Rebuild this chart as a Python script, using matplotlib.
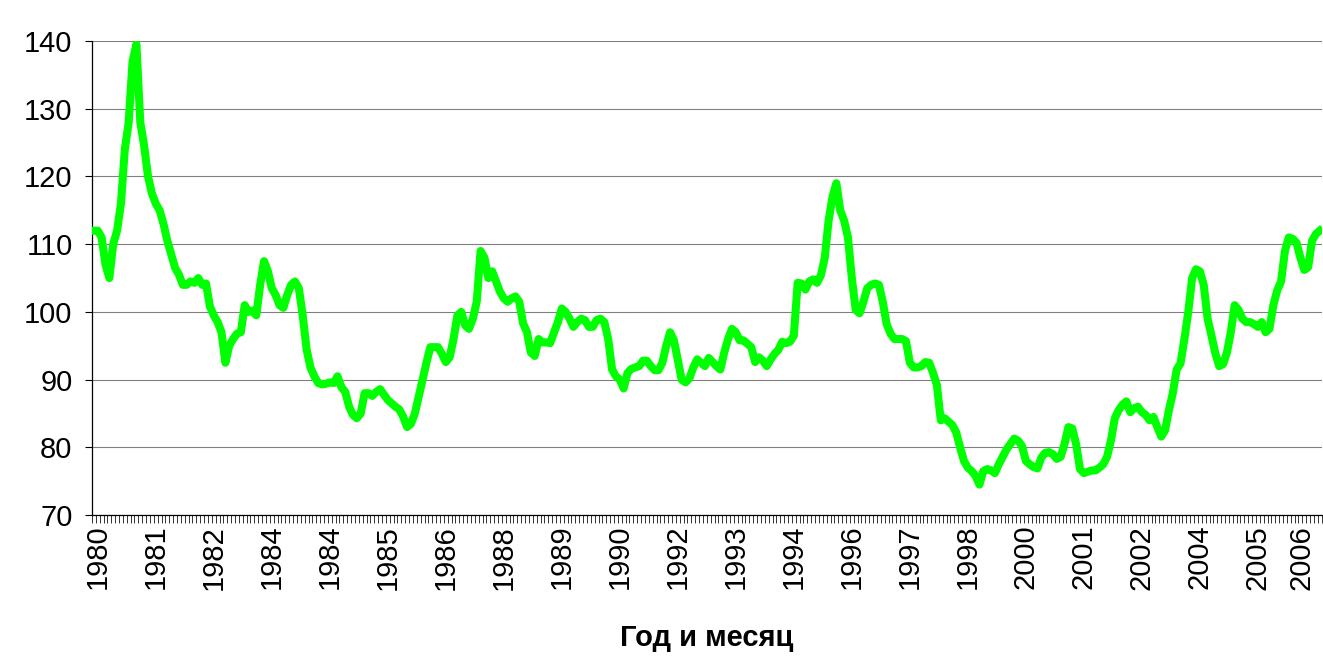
import numpy as np
import matplotlib.pyplot as plt

plt.rcParams['font.family'] = ['Liberation Sans', 'DejaVu Sans']

# monthly index values
values = [
    112, 112, 111, 107, 105, 110, 112, 116, 124, 128,
    137, 139.5, 128, 124.5, 120, 117.5, 116, 115, 113, 110.5,
    108.5, 106.5, 105.5, 104, 104, 104.5, 104.3, 105, 104, 104.2,
    100.8, 99.5, 98.5, 97, 92.5, 95, 96, 96.8, 97, 101,
    100, 100.2, 99.5, 104, 107.5, 106, 103.5, 102.5, 101, 100.6,
    102.5, 104, 104.5, 103.5, 99.5, 94.5, 91.8, 90.5, 89.5, 89.3,
    89.4, 89.6, 89.5, 90.5, 88.9, 88.2, 86, 84.8, 84.3, 85,
    88, 88, 87.6, 88.2, 88.6, 87.8, 87, 86.5, 86, 85.6,
    84.5, 83, 83.5, 85, 87.5, 90, 92.5, 94.8, 94.8, 94.8,
    93.8, 92.6, 93.3, 96, 99.5, 100, 98, 97.5, 99, 101.5,
    109, 108, 105, 106, 104.5, 103, 102, 101.5, 102, 102.3,
    101.5, 98.3, 97, 94, 93.5, 96, 95.5, 95.5, 95.4, 97,
    98.5, 100.5, 100, 99, 97.8, 98.5, 99, 98.8, 97.8, 97.8,
    98.8, 99, 98.5, 96, 91.5, 90.5, 90, 88.7, 91, 91.6,
    91.8, 92, 92.8, 92.8, 92, 91.4, 91.4, 92.5, 95, 97,
    95.8, 92.9, 90, 89.6, 90.2, 91.8, 93, 92.5, 92, 93.2,
    92.6, 92, 91.5, 94, 96, 97.5, 97, 95.8, 95.8, 95.3,
    94.8, 92.6, 93.3, 92.8, 92, 93, 93.8, 94.4, 95.6, 95.4,
    95.6, 96.5, 104.3, 104.2, 103.3, 104.5, 104.8, 104.3, 105.4, 108,
    113.5, 117, 119, 115, 113.5, 111, 105, 100.3, 99.8, 101.5,
    103.5, 104, 104.2, 104, 101.5, 98.2, 96.8, 96, 96, 96,
    95.7, 92.5, 91.8, 91.8, 92, 92.6, 92.5, 91, 89.2, 84,
    84.3, 83.8, 83.3, 82.2, 80, 78, 77, 76.5, 75.8, 74.5,
    76.5, 76.8, 76.6, 76.2, 77.5, 78.6, 79.7, 80.5, 81.3, 81,
    80.2, 78, 77.5, 77.1, 76.9, 78.5, 79.2, 79.3, 79, 78.3,
    78.6, 80.5, 83, 82.8, 80.5, 76.8, 76.2, 76.4, 76.6, 76.6,
    77, 77.5, 78.6, 81, 84.3, 85.5, 86.3, 86.8, 85.2, 85.8,
    86, 85.2, 84.8, 84, 84.5, 83, 81.6, 82.5, 85.5, 88,
    91.5, 92.4, 96, 100, 105, 106.3, 106, 104, 99, 96.5,
    93.9, 92, 92.3, 94, 97, 101, 100.3, 99, 98.5, 98.5,
    98.2, 97.8, 98.5, 97, 97.5, 101, 103.2, 104.5, 109, 111,
    110.8, 110.2, 108, 106.2, 106.6, 110.5, 111.5, 112,
]

year_labels = ['1980', '1981', '1982', '1984', '1984', '1985', '1986', '1988',
               '1989', '1990', '1992', '1993', '1994', '1996', '1997', '1998',
               '2000', '2001', '2002', '2004', '2005', '2006']
label_step = 15
y_ticks = [70, 80, 90, 100, 110, 120, 130, 140]

n = len(values)
x = np.arange(n)

fig = plt.figure(figsize=(13.23, 6.69), dpi=100)
ax = fig.add_axes([0.0695, 0.230, 0.9295, 0.7087])

ax.plot(x, values, color='#00FF00', lw=5.8, solid_joinstyle='round', zorder=3)

ax.set_xlim(-0.5, n - 0.5)
ax.set_ylim(70, 140)
ax.set_yticks(y_ticks)
ax.yaxis.grid(True, color='#808080', lw=0.8)
ax.set_axisbelow(True)

pos = np.arange(len(year_labels)) * label_step + 1
ax.set_xticks(pos)
ax.set_xticklabels(year_labels, rotation=90)
ax.set_xticks(np.arange(-0.5, n, 1), minor=True)
ax.tick_params(axis='x', which='major', length=0, pad=7, labelsize=21)
ax.tick_params(axis='x', which='minor', length=6, width=0.7, color='#333333')
ax.tick_params(axis='y', length=5, width=0.8, pad=9, labelsize=21)
ax.get_xticklabels()[-1].set_horizontalalignment('right')

for s in ['top', 'right']:
    ax.spines[s].set_visible(False)
for s in ['left', 'bottom']:
    ax.spines[s].set_color('black')
    ax.spines[s].set_linewidth(0.9)

ax.set_xlabel('Год и месяц', fontsize=21, fontweight='bold', labelpad=25)

fig.savefig('out.png', dpi=100)
